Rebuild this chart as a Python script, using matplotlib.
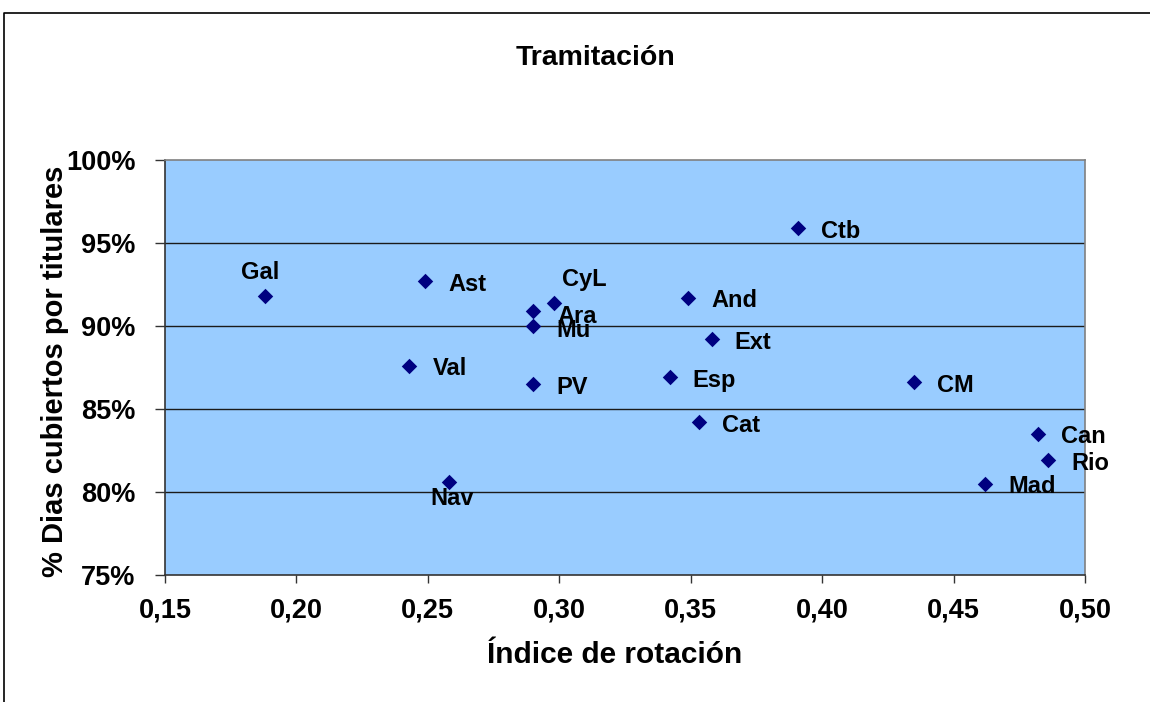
import matplotlib
matplotlib.use("Agg")
import matplotlib.pyplot as plt
from matplotlib.lines import Line2D
from matplotlib.ticker import FuncFormatter

plt.rcParams['font.family'] = ['Liberation Sans', 'DejaVu Sans']
plt.rcParams['font.weight'] = 'bold'

# datos
regiones = ["Gal", "Ast", "CyL", "Ara", "Mu", "And", "Ext", "Val", "PV",
            "Esp", "Cat", "Ctb", "CM", "Can", "Rio", "Mad", "Nav"]
rotacion = [0.188, 0.249, 0.298, 0.290, 0.290, 0.349, 0.358, 0.243, 0.290,
            0.342, 0.353, 0.391, 0.435, 0.482, 0.486, 0.462, 0.258]
cubiertos = [91.8, 92.7, 91.4, 90.9, 90.0, 91.7, 89.2, 87.6, 86.5,
             86.9, 84.2, 95.9, 86.6, 83.5, 81.9, 80.5, 80.6]

x_ticks = [0.15, 0.20, 0.25, 0.30, 0.35, 0.40, 0.45, 0.50]
y_ticks = [75, 80, 85, 90, 95, 100]

# desplazamiento de cada etiqueta en pixeles (dx, dy del centro de mayusculas)
# Ara y Mu se solapan igual que en el original
offsets = {"Gal": (-5, 27, "center"), "CyL": (8, 26, "left"),
           "Ara": (24, -2, "left"), "Mu": (23, -2, "left"),
           "Nav": (3, -13, "center")}

fig = plt.figure(figsize=(11.5, 7.02), dpi=100)
ax = fig.add_axes([165 / 1150, 127 / 702, 920 / 1150, 415 / 702])
ax.set_facecolor("#99CCFF")

ax.scatter(rotacion, cubiertos, marker="D", s=62, color="#000080", zorder=3,
           linewidths=0)

for nombre, xv, yv in zip(regiones, rotacion, cubiertos):
    dx, dy, ha = offsets.get(nombre, (23, 0, "left"))
    ax.annotate(nombre, (xv, yv), xytext=(dx, dy - 9.5), textcoords="offset pixels",
                ha=ha, va="baseline", fontsize=17, fontweight="bold",
                color="black", zorder=4)

ax.set_xlim(0.15, 0.50)
ax.set_ylim(75, 100)
ax.set_xticks(x_ticks)
ax.set_yticks(y_ticks)
ax.xaxis.set_major_formatter(FuncFormatter(lambda v, p: f"{v:.2f}".replace(".", ",")))
ax.yaxis.set_major_formatter(FuncFormatter(lambda v, p: f"{v:.0f}%"))

for yv in y_ticks[1:-1]:
    ax.axhline(yv, color="#1a1a1a", lw=1.0, zorder=1)

ax.tick_params(axis="y", length=7.2, width=1.0, pad=14, labelsize=19.5, color="#333333")
ax.tick_params(axis="x", length=5.8, width=1.0, pad=10.5, labelsize=19.5, color="#333333")
for lbl in ax.get_xticklabels() + ax.get_yticklabels():
    lbl.set_fontweight("bold")

for lado in ["left", "bottom"]:
    ax.spines[lado].set_color("#333333")
    ax.spines[lado].set_linewidth(1.2)
for lado in ["top", "right"]:
    ax.spines[lado].set_color("#808080")
    ax.spines[lado].set_linewidth(1.2)

ax.set_xlabel("Índice de rotación", fontsize=21.5, fontweight="bold", va="baseline")
ax.xaxis.set_label_coords(0.4886, -0.212)
ax.set_ylabel("% Dias cubiertos por titulares", fontsize=21, fontweight="bold",
              va="baseline", rotation_mode="anchor")
ax.yaxis.set_label_coords(-0.1109, 0.4916)

fig.text(595 / 1150, 1 - 65 / 702, "Tramitación", ha="center", va="baseline",
         fontsize=20.5, fontweight="bold")

# marco exterior del grafico
fig.add_artist(Line2D([4 / 1150, 4 / 1150, 1.0], [0.0, 1 - 13 / 702, 1 - 13 / 702],
                      transform=fig.transFigure, color="black", lw=1.2))

fig.savefig("out.png", dpi=100)
